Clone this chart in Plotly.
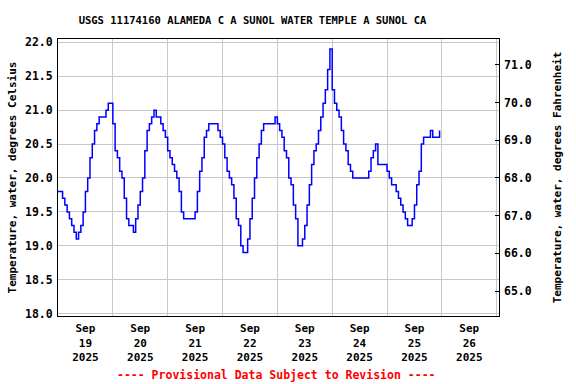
import pandas as pd
import plotly.graph_objects as go

# Hourly water temperature (deg C), starting 2025-09-19 00:00
sep19 = [19.8, 19.8, 19.7, 19.6, 19.5, 19.4, 19.3, 19.2, 19.1, 19.2, 19.3, 19.5,
         19.8, 20.0, 20.3, 20.5, 20.7, 20.8, 20.9, 20.9, 20.9, 21.0, 21.1, 21.1]
sep20 = [20.8, 20.4, 20.3, 20.1, 20.0, 19.7, 19.4, 19.3, 19.3, 19.2, 19.4, 19.6,
         19.8, 20.0, 20.4, 20.7, 20.8, 20.9, 21.0, 20.9, 20.9, 20.8, 20.7, 20.6]
sep21 = [20.4, 20.3, 20.2, 20.1, 20.0, 19.8, 19.5, 19.4, 19.4, 19.4, 19.4, 19.4,
         19.5, 19.8, 20.1, 20.3, 20.6, 20.7, 20.8, 20.8, 20.8, 20.8, 20.7, 20.6]
sep22 = [20.5, 20.3, 20.1, 20.0, 19.9, 19.7, 19.4, 19.3, 19.0, 18.9, 18.9, 19.1,
         19.4, 19.7, 20.0, 20.3, 20.5, 20.7, 20.8, 20.8, 20.8, 20.8, 20.8, 20.9]
sep23 = [20.8, 20.7, 20.6, 20.4, 20.3, 20.0, 19.9, 19.6, 19.4, 19.0, 19.0, 19.1,
         19.3, 19.6, 19.9, 20.2, 20.4, 20.5, 20.7, 20.9, 21.1, 21.3, 21.6, 21.9]
sep24 = [21.3, 21.1, 21.0, 20.9, 20.7, 20.5, 20.4, 20.2, 20.1, 20.0, 20.0, 20.0,
         20.0, 20.0, 20.0, 20.0, 20.1, 20.3, 20.4, 20.5, 20.2, 20.2, 20.2, 20.2]
sep25 = [20.1, 20.0, 19.9, 19.9, 19.8, 19.7, 19.6, 19.5, 19.4, 19.3, 19.3, 19.4,
         19.6, 19.9, 20.1, 20.5, 20.6, 20.6, 20.6, 20.7, 20.6, 20.6, 20.6, 20.7]
temps_c = sep19 + sep20 + sep21 + sep22 + sep23 + sep24 + sep25
times = pd.date_range("2025-09-19 00:00", periods=len(temps_c), freq="h")

tick_dates = ["2025-09-19 12:00", "2025-09-20 12:00", "2025-09-21 12:00", "2025-09-22 12:00",
              "2025-09-23 12:00", "2025-09-24 12:00", "2025-09-25 12:00", "2025-09-26 12:00"]
tick_labels = ["Sep<br>19<br>2025", "Sep<br>20<br>2025", "Sep<br>21<br>2025", "Sep<br>22<br>2025",
               "Sep<br>23<br>2025", "Sep<br>24<br>2025", "Sep<br>25<br>2025", "Sep<br>26<br>2025"]
c_ticks = [18.0, 18.5, 19.0, 19.5, 20.0, 20.5, 21.0, 21.5, 22.0]
f_ticks = [65.0, 66.0, 67.0, 68.0, 69.0, 70.0, 71.0]

title = "USGS 11174160 ALAMEDA C A SUNOL WATER TEMPLE A SUNOL CA"
left_title = "Temperature, water, degrees Celsius"
right_title = "Temperature, water, degrees Fahrenheit"
footer = "---- Provisional Data Subject to Revision ----"

FONT = "DejaVu Sans Mono"
c_range = [17.965, 22.049]
f_range = [c * 1.8 + 32 for c in c_range]

fig = go.Figure()
fig.add_trace(go.Scatter(x=times, y=temps_c, mode="lines", line_shape="hv",
                         line=dict(color="#0000FF", width=1.5), showlegend=False))
# invisible trace to activate the Fahrenheit axis
fig.add_trace(go.Scatter(x=[times[0]], y=[temps_c[0] * 1.8 + 32], yaxis="y2",
                         mode="markers", marker=dict(opacity=0), showlegend=False,
                         hoverinfo="skip"))

fig.update_layout(
    width=576, height=384,
    margin=dict(l=58, r=77, t=39, b=68),
    paper_bgcolor="white", plot_bgcolor="white",
    font=dict(family=FONT, size=11, color="black", weight="bold"),
    title=dict(text=title, x=(252.5 - 58) / 441, xref="paper", xanchor="center",
               y=1 - 20 / 384, yanchor="middle",
               font=dict(family=FONT, size=10.5, color="black", weight="bold")),
    xaxis=dict(
        type="date",
        range=["2025-09-19 00:00", "2025-09-27 01:00"],
        tickvals=tick_dates, ticktext=tick_labels,
        showgrid=False, ticks="", showline=True, linecolor="black", linewidth=1,
        mirror=True, zeroline=False, ticklabelstandoff=2,
        tickfont=dict(family=FONT, size=11, color="black", weight="bold"),
        minor=dict(dtick=86400000, tick0="2025-09-19", showgrid=True,
                   gridcolor="#C8C8C8", gridwidth=1, ticks=""),
    ),
    yaxis=dict(
        range=c_range, tickvals=c_ticks, tickformat=".1f",
        showgrid=True, gridcolor="#C8C8C8", gridwidth=1,
        showline=True, linecolor="black", linewidth=1, mirror=True,
        ticks="", zeroline=False, ticklabelstandoff=2,
        title=dict(text=left_title, standoff=6,
                   font=dict(family=FONT, size=11, color="black", weight="bold")),
        tickfont=dict(family=FONT, size=11.5, color="black", weight="bold"),
    ),
    yaxis2=dict(
        range=f_range, tickvals=f_ticks, tickformat=".1f",
        overlaying="y", side="right", showgrid=False, zeroline=False,
        ticks="inside", ticklen=4, tickcolor="black", showline=False,
        ticklabelstandoff=4,
        title=dict(text=right_title, standoff=22,
                   font=dict(family=FONT, size=11, color="black", weight="bold")),
        tickfont=dict(family=FONT, size=11.5, color="black", weight="bold"),
    ),
    annotations=[dict(text=footer, xref="paper", yref="paper",
                      x=(276 - 58) / 441, y=-(375 - 315.7) / 277, xanchor="center",
                      yanchor="middle", showarrow=False,
                      font=dict(family=FONT, size=11.5, color="#FF0000", weight="bold"))],
)

fig.write_html("out.html", config={"displayModeBar": False},
               post_script="document.body.style.margin='0';")
